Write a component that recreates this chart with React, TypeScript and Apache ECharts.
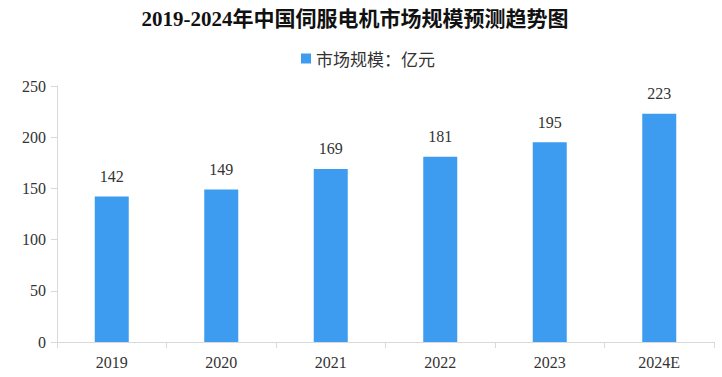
import React, { useEffect, useRef } from "react";
import * as echarts from "echarts";

const title = "2019-2024年中国伺服电机市场规模预测趋势图";
const seriesName = "市场规模：亿元";
const categories = ["2019", "2020", "2021", "2022", "2023", "2024E"];
const values = [142, 149, 169, 181, 195, 223];

export default function App() {
  const ref = useRef<HTMLDivElement>(null);
  useEffect(() => {
    if (!ref.current) return;
    const chart = echarts.init(ref.current, null, { renderer: "svg" });
    const font = "'Liberation Serif', 'Noto Sans CJK SC', serif";
    chart.setOption({
      animation: false,
      backgroundColor: "#ffffff",
      title: {
        text: title,
        left: 350,
        textAlign: "center",
        top: 3,
        textStyle: { fontSize: 21, fontWeight: "bold", color: "#111", fontFamily: font },
      },
      legend: {
        top: 45,
        left: 296,
        itemWidth: 10,
        itemHeight: 10,
        itemGap: 6,
        icon: "rect",
        textStyle: { fontSize: 17, color: "#333", fontFamily: "'Noto Sans CJK SC', sans-serif" },
        data: [seriesName],
      },
      grid: { left: 57, right: 8, top: 86, bottom: 35, containLabel: false },
      xAxis: {
        type: "category",
        data: categories,
        axisLine: { lineStyle: { color: "#d9d9d9" } },
        axisTick: { show: true, alignWithLabel: false, length: 6, lineStyle: { color: "#d9d9d9" } },
        axisLabel: { color: "#333", fontSize: 16, margin: 12, fontFamily: font },
      },
      yAxis: {
        type: "value",
        min: 0,
        max: 250,
        interval: 50,
        axisLine: { show: true, lineStyle: { color: "#d9d9d9" } },
        axisTick: { show: true, length: 6, lineStyle: { color: "#d9d9d9" } },
        splitLine: { show: false },
        axisLabel: { color: "#333", fontSize: 16, margin: 11, fontFamily: font },
      },
      series: [
        {
          name: seriesName,
          type: "bar",
          data: values,
          barWidth: 34,
          itemStyle: { color: "#3d9cf0" },
          label: {
            show: true,
            position: "top",
            distance: 12,
            color: "#333",
            fontSize: 16,
            fontFamily: font,
          },
        },
      ],
    });
    return () => chart.dispose();
  }, []);
  return (
    <div
      ref={ref}
      style={{ position: "absolute", left: 0, top: 0, width: 722, height: 377 }}
    />
  );
}
